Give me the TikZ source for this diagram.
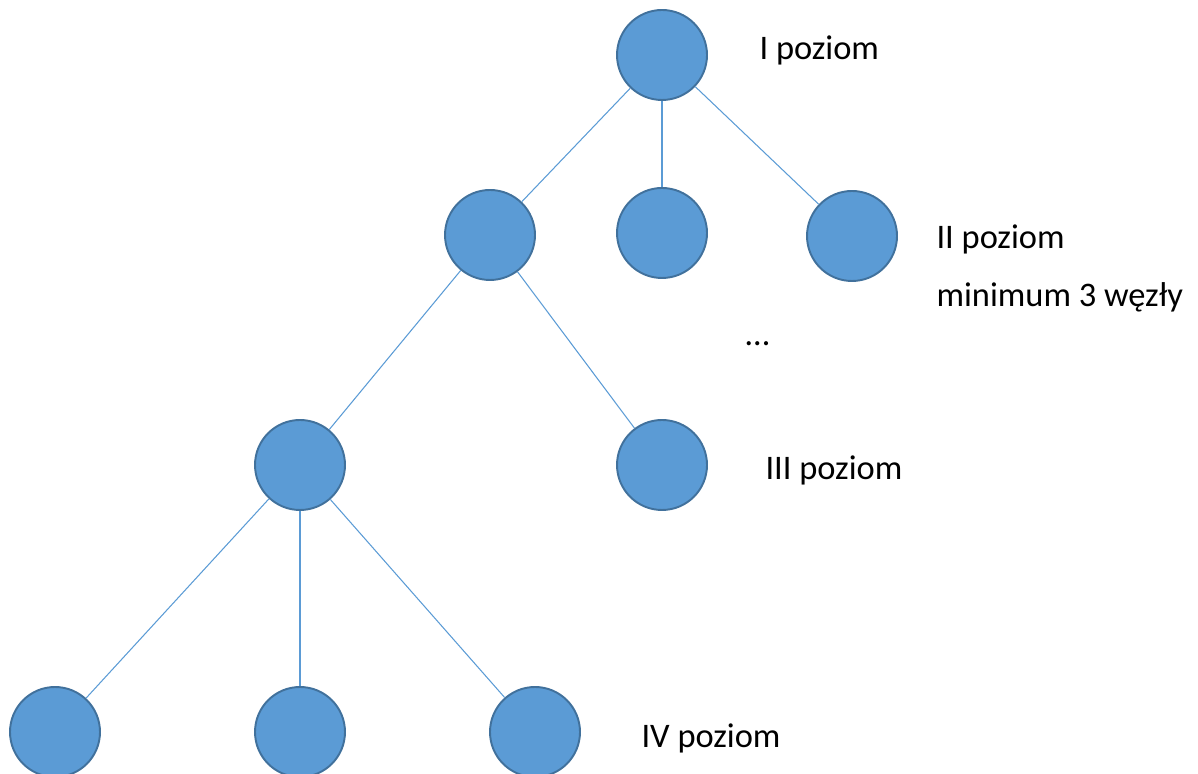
\documentclass[tikz,border=0pt]{standalone}
\usepackage{fontspec}
\setmainfont{Carlito}
\definecolor{nodefill}{HTML}{5B9BD5}
\definecolor{nodeline}{HTML}{41719C}

\begin{document}
\begin{tikzpicture}[semithick,
  vertex/.style={circle,fill=nodefill,draw=nodeline,line width=1.1pt,minimum size=1.8cm,inner sep=0pt},
  level/.style={anchor=base west,inner sep=0pt,font=\fontsize{19.6}{23}\selectfont},
  link/.style={draw=nodefill,line width=0.6pt}]
\useasboundingbox (0,0) rectangle (23.96,15.48);
\node[vertex] (r) at (13.24, 14.38) {};
\node[vertex] (a) at (9.8, 10.78) {};
\node[vertex] (b) at (13.24, 10.82) {};
\node[vertex] (c) at (17.04, 10.76) {};
\node[vertex] (aa) at (6.0, 6.18) {};
\node[vertex] (ab) at (13.24, 6.18) {};
\node[vertex] (aaa) at (1.1, 0.84) {};
\node[vertex] (aab) at (6.0, 0.84) {};
\node[vertex] (aac) at (10.7, 0.84) {};
\path[link] (r) edge (a);
\path[link] (r) edge (b);
\path[link] (r) edge (c);
\path[link] (a) edge (aa);
\path[link] (a) edge (ab);
\path[link] (aa) edge (aaa);
\path[link] (aa) edge (aab);
\path[link] (aa) edge (aac);
\node[level] (l1) at (15.18, 14.28) {I poziom};
\node[level] (l2) at (18.72, 10.5) {II poziom};
\node[level] (l2b) at (18.72, 9.34) {minimum 3 węzły};
\node[level] (dots) at (14.9, 8.56) {…};
\node[level] (l3) at (15.3, 5.88) {III poziom};
\node[level] (l4) at (12.82, 0.52) {IV poziom};
\end{tikzpicture}
\end{document}
